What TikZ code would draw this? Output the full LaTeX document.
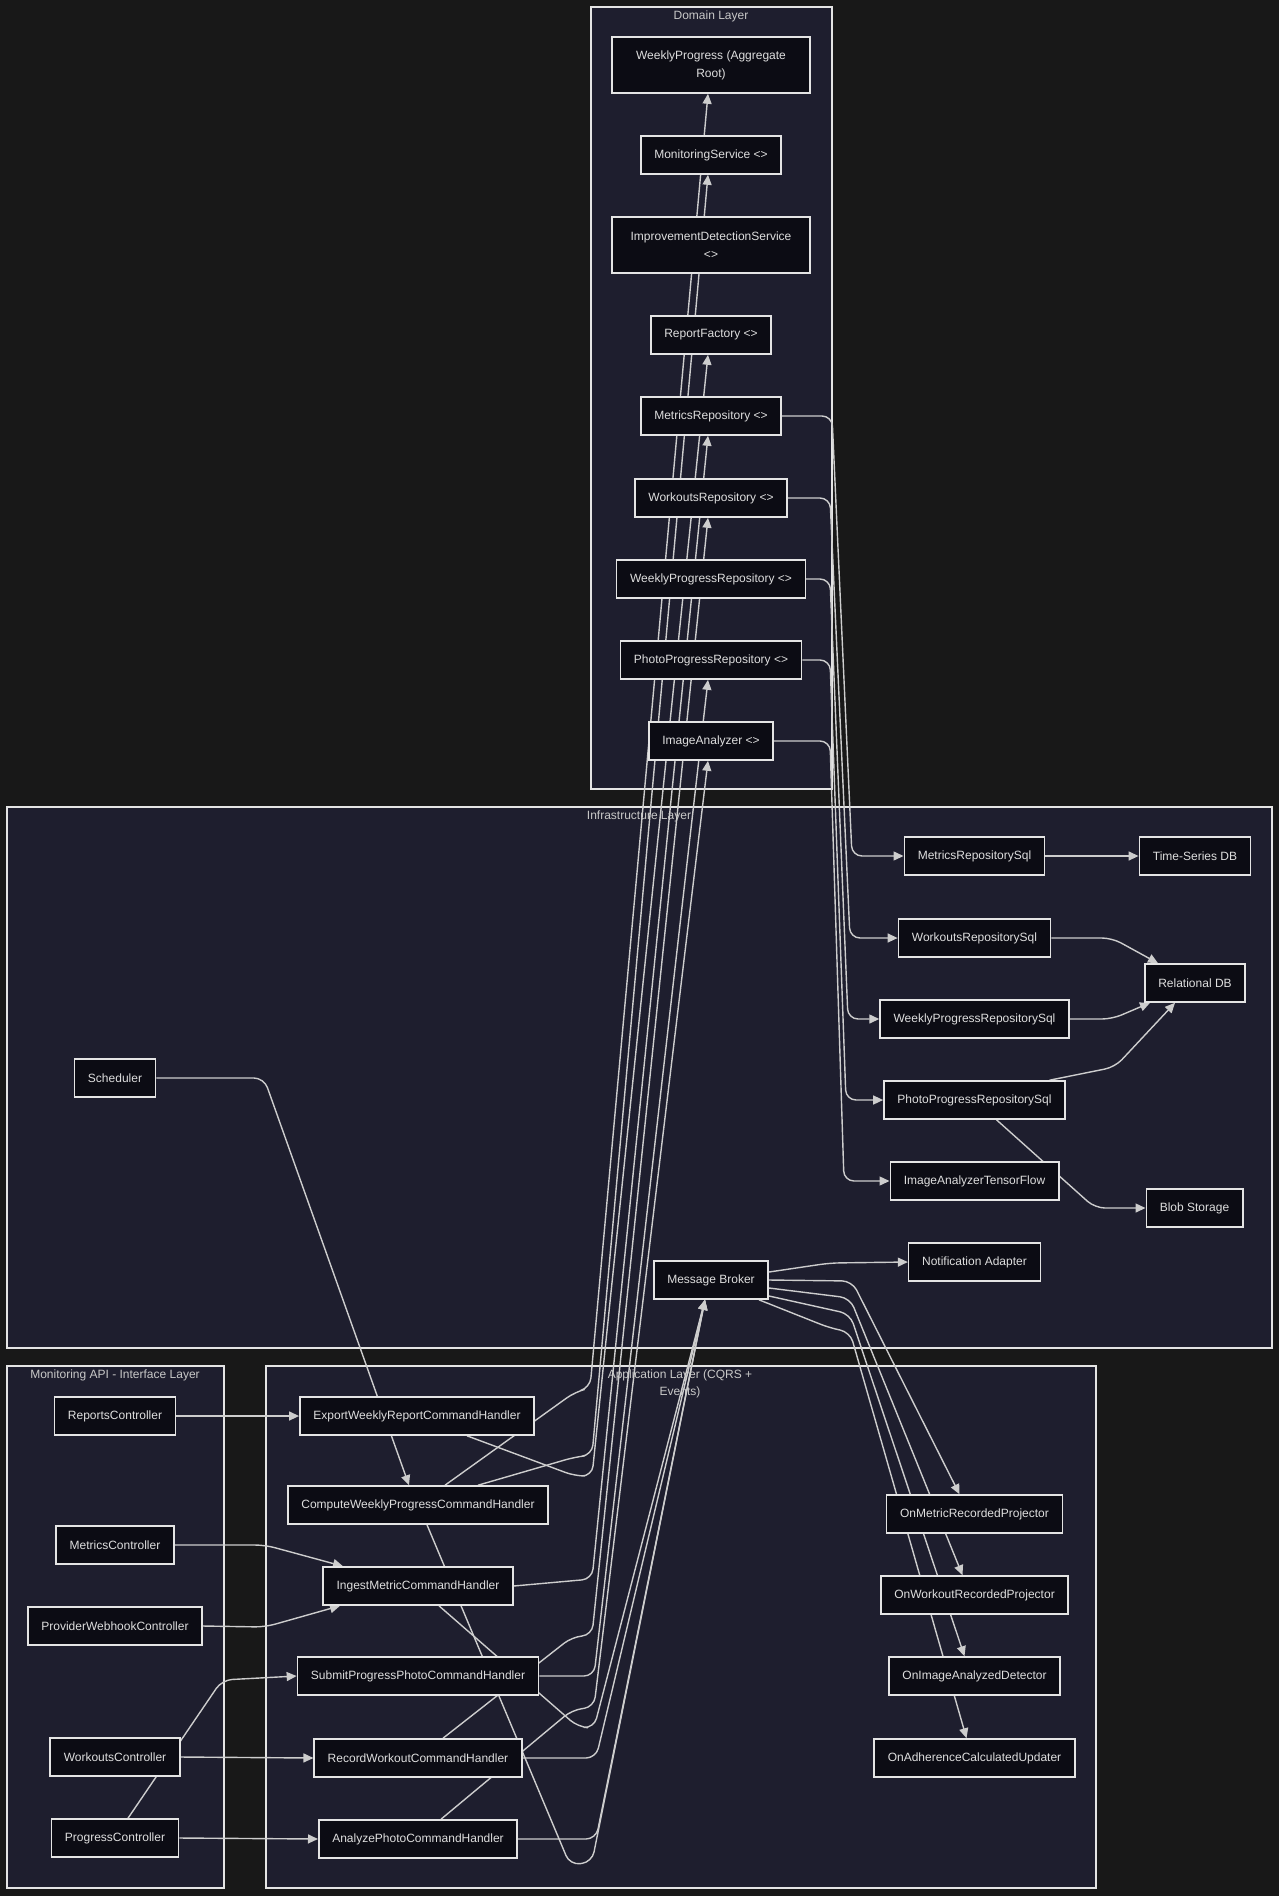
\documentclass[tikz,border=0pt]{standalone}
\usepackage{fontspec}
\setmainfont{Liberation Sans}
\usetikzlibrary{arrows.meta}
\definecolor{canvas}{RGB}{24,24,24}
\definecolor{layerfill}{RGB}{30,30,46}
\definecolor{boxfill}{RGB}{12,12,20}
\definecolor{boxline}{RGB}{228,228,228}
\definecolor{wire}{RGB}{205,205,205}
\definecolor{ink}{RGB}{222,222,222}
\pgfdeclarelayer{back}
\pgfdeclarelayer{wires}
\pgfsetlayers{back,wires,main}

\begin{document}
\begin{tikzpicture}[x=1pt,y=-1pt,
    box/.style={draw=boxline,line width=1.6pt,fill=boxfill,text=ink,
      font=\fontsize{12}{18}\selectfont,inner xsep=13.5pt,inner ysep=0pt,
      minimum height=38pt,align=center},
    widebox/.style={box,minimum width=198pt,minimum height=56pt},
    layer/.style={draw=boxline,line width=1.3pt,fill=layerfill},
    layertitle/.style={text=ink!90!black,font=\fontsize{12}{17}\selectfont,align=center,inner sep=0pt},
    link/.style={draw=wire,line width=1.4pt,rounded corners=10pt,-{Triangle[length=10pt,width=9pt]}}]

    % Canvas and layers
    \begin{pgfonlayer}{back}
    \useasboundingbox (0,0) rectangle (1279,1896);
    \fill[canvas] (0,0) rectangle (1279,1896);
    \draw[layer] (591,7) rectangle (832,789);
    \draw[layer] (7,807) rectangle (1272,1348);
    \draw[layer] (7,1366) rectangle (224,1888);
    \draw[layer] (266,1366) rectangle (1096,1888);

    \node[layertitle] (domaintitle) at (711,16) {Domain Layer};
    \node[layertitle] (infratitle) at (639,816) {Infrastructure Layer};
    \node[layertitle] (apititle) at (115,1375) {Monitoring API - Interface Layer};
    \node[layertitle] (apptitle) at (680,1384) {Application Layer (CQRS +\\Events)};
    \end{pgfonlayer}

    % Domain nodes
    \node[widebox] (WP) at (711,65) {WeeklyProgress (Aggregate\\Root)};
    \node[box] (MS) at (711,155) {MonitoringService <>};
    \node[widebox] (IDS) at (711,245) {ImprovementDetectionService\\<>};
    \node[box] (RF) at (711,335) {ReportFactory <>};
    \node[box] (MR) at (711,416) {MetricsRepository <>};
    \node[box] (WR) at (711,498) {WorkoutsRepository <>};
    \node[box] (WPR) at (711,579) {WeeklyProgressRepository <>};
    \node[box] (PPR) at (711,660) {PhotoProgressRepository <>};
    \node[box] (IA) at (711,741) {ImageAnalyzer <>};

    % Infrastructure nodes
    \node[box] (MRSql) at (974.5,856) {MetricsRepositorySql};
    \node[box] (TSDB) at (1195,856) {Time-Series DB};
    \node[box] (WRSql) at (974.5,938) {WorkoutsRepositorySql};
    \node[box] (RDB) at (1195,983) {Relational DB};
    \node[box] (WPRSql) at (974.5,1019) {WeeklyProgressRepositorySql};
    \node[box] (PPRSql) at (974.5,1100) {PhotoProgressRepositorySql};
    \node[box] (IATF) at (974.5,1181) {ImageAnalyzerTensorFlow};
    \node[box] (Blob) at (1194.5,1208) {Blob Storage};
    \node[box] (NA) at (974.5,1262) {Notification Adapter};
    \node[box] (MB) at (711,1280) {Message Broker};
    \node[box] (Sched) at (115,1078) {Scheduler};

    % Interface nodes
    \node[box] (RC) at (115,1416) {ReportsController};
    \node[box] (MC) at (115,1545) {MetricsController};
    \node[box] (PWC) at (115,1626) {ProviderWebhookController};
    \node[box] (WC) at (115,1757) {WorkoutsController};
    \node[box] (PC) at (115,1838) {ProgressController};

    % Application nodes
    \node[box] (Export) at (417,1416) {ExportWeeklyReportCommandHandler};
    \node[box] (Compute) at (418,1505) {ComputeWeeklyProgressCommandHandler};
    \node[box] (Ingest) at (418,1586) {IngestMetricCommandHandler};
    \node[box] (Submit) at (418,1676) {SubmitProgressPhotoCommandHandler};
    \node[box] (Record) at (418,1758) {RecordWorkoutCommandHandler};
    \node[box] (Analyze) at (418,1839) {AnalyzePhotoCommandHandler};
    \node[box] (OMR) at (974.5,1514) {OnMetricRecordedProjector};
    \node[box] (OWR) at (974.5,1595) {OnWorkoutRecordedProjector};
    \node[box] (OIA) at (974.5,1676) {OnImageAnalyzedDetector};
    \node[box] (OAC) at (974.5,1758) {OnAdherenceCalculatedUpdater};

    \begin{pgfonlayer}{wires}
    % Controllers to handlers
    \draw[link] (RC.east) -- (Export.west);
    \draw[link] (MC.east) -- (265,1545) -- ([xshift=-75pt]Ingest.north);
    \draw[link] (PWC.east) -- (265,1627) -- ([xshift=-78pt]Ingest.south);
    \draw[link] (WC.east) -- (Record.west);
    \draw[link] ([xshift=13pt]PC.north) -- (222,1680) -- (Submit.west);
    \draw[link] (PC.east) -- (Analyze.west);
    \draw[link] (Sched.east) -- (264,1078) -- ([xshift=-9pt]Compute.north);

    % Handlers to domain
    \draw[link] ([xshift=27pt]Compute.north) -- (575,1392) -- (590,1388) -- ([xshift=-3pt]WP.south);
    \draw[link] ([xshift=60pt]Compute.north) -- (575,1457) -- (592,1455) -- ([xshift=-3pt]MS.south);
    \draw[link] ([xshift=50pt]Export.south) -- (575,1476) -- (592,1476) -- ([xshift=-3pt]RF.south);
    \draw[link] (Ingest.east) -- (592,1579) -- ([xshift=-3pt]MR.south);
    \draw[link] ([xshift=25pt]Record.north) -- (572,1637) -- (592,1635) -- ([xshift=-3pt]WR.south);
    \draw[link] (Submit.east) -- (594,1676) -- ([xshift=-3pt]PPR.south);
    \draw[link] ([xshift=23pt]Analyze.north) -- (572,1710) -- (594,1707) -- ([xshift=-3pt]IA.south);

    % Handlers to broker
    \draw[link] ([xshift=21pt]Ingest.south) -- (578,1727) -- (594,1728) -- ([xshift=-6pt]MB.south);
    \draw[link] (Record.east) -- (596,1758) -- ([xshift=-6pt]MB.south);
    \draw[link] (Analyze.east) -- (596,1839) -- ([xshift=-6pt]MB.south);
    \draw[link] ([xshift=9pt]Compute.south) -- (570,1865) -- (592,1862) -- ([xshift=-6pt]MB.south);

    % Broker to subscribers
    \draw[link] ([yshift=8pt]MB.east) -- (830,1263) -- (NA.west);
    \draw[link] (MB.east) -- (852,1281) -- ([xshift=-15pt]OMR.north);
    \draw[link] ([yshift=-8pt]MB.east) -- (850,1298) -- ([xshift=-12pt]OWR.north);
    \draw[link] ([yshift=-16pt]MB.east) -- (850,1314) -- ([xshift=-10pt]OIA.north);
    \draw[link] ([xshift=-10pt]MB.south east) -- (830,1328) -- (850,1332) -- ([xshift=-8pt]OAC.north);

    % Ports to adapters
    \draw[link] (MR.east) -- (832,416) -- (852,856) -- (MRSql.west);
    \draw[link] (WR.east) -- (830,498) -- (850,938) -- (WRSql.west);
    \draw[link] (WPR.east) -- (830,579) -- (848,1019) -- (WPRSql.west);
    \draw[link] (PPR.east) -- (830,660) -- (846,1100) -- (PPRSql.west);
    \draw[link] (IA.east) -- (830,741) -- (844,1181) -- (IATF.west);

    % Adapters to stores
    \draw[link] (MRSql.east) -- (TSDB.west);
    \draw[link] (WRSql.east) -- (1112,938) -- ([xshift=-37pt]RDB.north);
    \draw[link] (WPRSql.east) -- (1112,1019) -- ([xshift=-45pt]RDB.south);
    \draw[link] ([xshift=75pt]PPRSql.north) -- (1115,1067) -- ([xshift=-20pt]RDB.south);
    \draw[link] ([xshift=22pt]PPRSql.south) -- (1095,1208) -- (Blob.west);
    \end{pgfonlayer}
\end{tikzpicture}
\end{document}
